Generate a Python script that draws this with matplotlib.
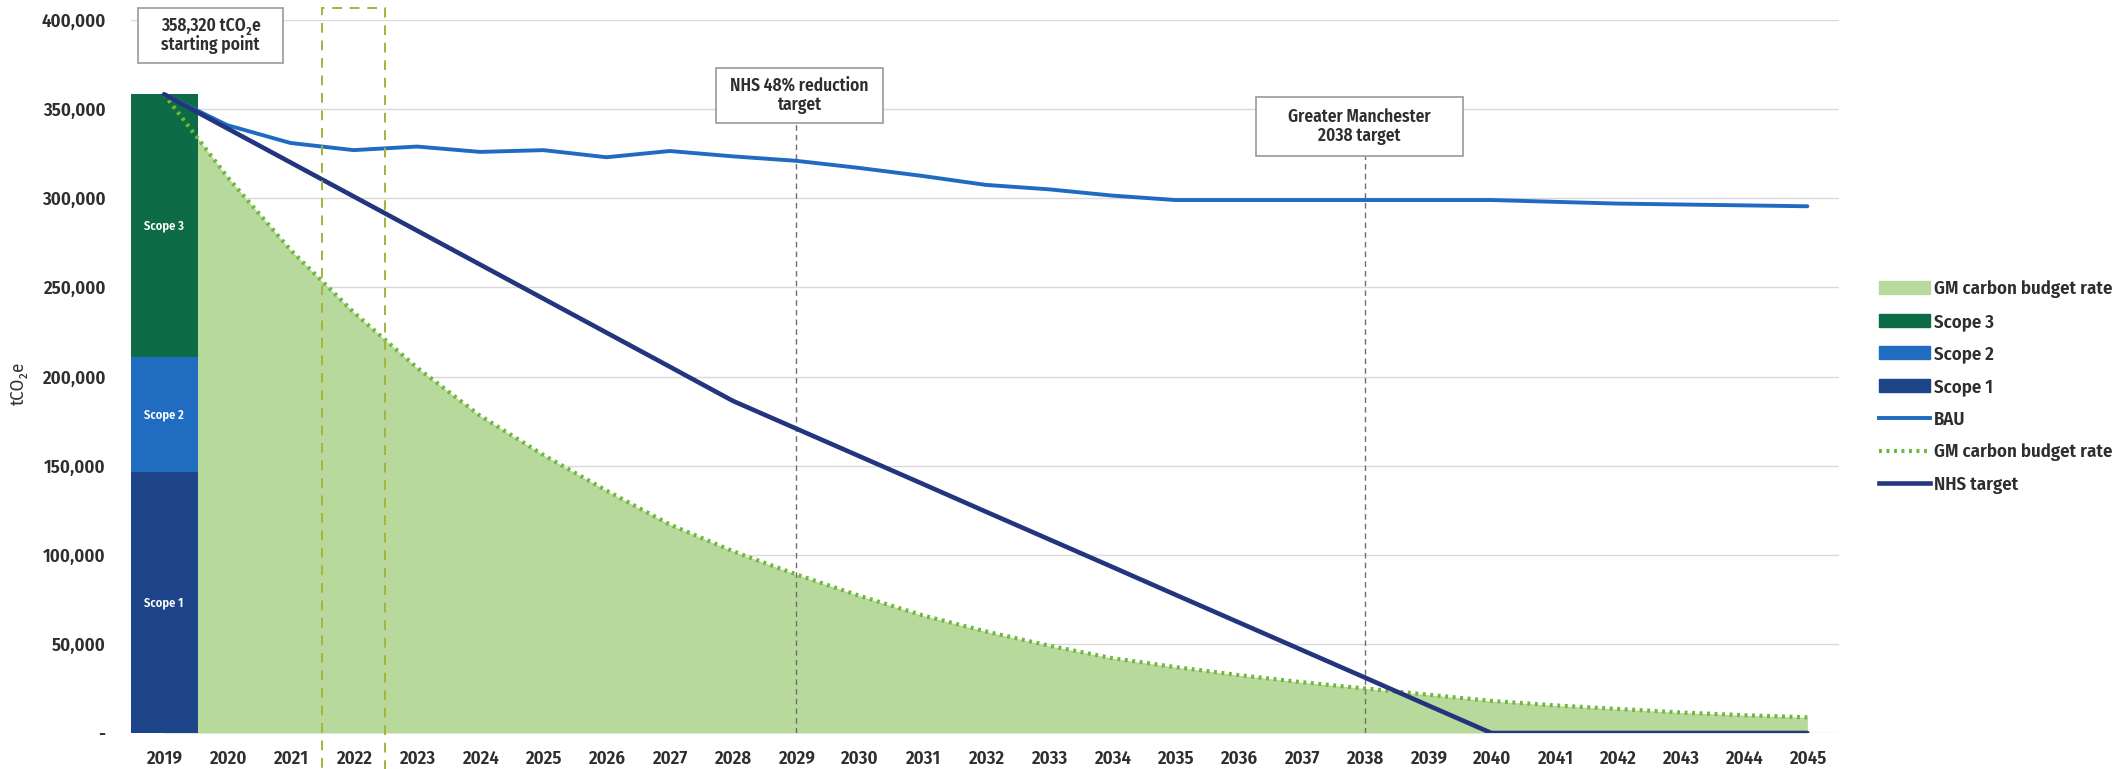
import numpy as np
import matplotlib.pyplot as plt
from matplotlib.patches import Rectangle, Patch
from matplotlib.lines import Line2D
from matplotlib.ticker import FuncFormatter

plt.rcParams['font.family'] = ['Fira Sans Condensed', 'DejaVu Sans']
plt.rcParams['font.weight'] = 600

years = np.arange(2019, 2046)

# 2019 baseline split by scope (tCO2e)
scope_1 = 146500
scope_2 = 64500
scope_3 = 147320

bau = [358320, 341000, 331000, 327000, 329000, 326000, 327000, 323000, 326500,
       323500, 321000, 317000, 312500, 307500, 305000, 301500, 299000, 299000,
       299000, 299000, 299000, 299000, 298000, 297000, 296500, 296000, 295500]

gm_budget = [358320, 312000, 271000, 236000, 205000, 178000, 156000, 136000,
             117000, 102000, 89000, 77000, 66000, 57000, 49000, 42000, 37000,
             32500, 28500, 25000, 21500, 18000, 15500, 13500, 11500, 10000, 8800]

nhs_target = [358320, 339200, 320100, 301000, 281900, 262800, 243700, 224600,
              205500, 186300, 170800, 155300, 139800, 124200, 108700, 93200,
              77600, 62100, 46600, 31100, 15500, 0, 0, 0, 0, 0, 0]

c_area = '#b7da9c'
c_dots = '#6fb83a'
c_s3 = '#0d6b45'
c_s2 = '#1f6cc0'
c_s1 = '#1d4488'
c_bau = '#1f6bc1'
c_nhs = '#24357f'
c_text = '#2e2e2e'
dot_style = (0, (0.7, 1.1))

fig = plt.figure(figsize=(21.13, 7.69), dpi=100)
ax = fig.add_axes([0.0618, 0.0468, 0.8085, 0.9272])

ax.fill_between(years, gm_budget, 0, color=c_area, lw=0, zorder=1)

bw = 1.06
ax.bar(2019, scope_1, width=bw, color=c_s1, zorder=2)
ax.bar(2019, scope_2, bottom=scope_1, width=bw, color=c_s2, zorder=2)
ax.bar(2019, scope_3, bottom=scope_1 + scope_2, width=bw, color=c_s3, zorder=2)
for lab, y in [('Scope 1', scope_1 / 2), ('Scope 2', scope_1 + scope_2 / 2),
               ('Scope 3', scope_1 + scope_2 + scope_3 / 2)]:
    ax.text(2019, y, lab, color='white', fontsize=9, ha='center', va='center', zorder=3)

ax.plot(years, gm_budget, color=c_dots, lw=3, linestyle=dot_style, zorder=4)
ax.plot(years, bau, color=c_bau, lw=2.8, zorder=5, solid_capstyle='round')
ax.plot(years, nhs_target, color=c_nhs, lw=3.3, zorder=6, solid_capstyle='round')

# highlighted current year
ax.add_patch(Rectangle((2021.5, -21000), 1.0, 428000, fill=False, ec='#a3b33f',
                       lw=1.4, ls=(0, (5, 4)), clip_on=False, zorder=7))


def note(x0, x1, y0, y1, text, leader=None):
    ax.add_patch(Rectangle((x0, y0), x1 - x0, y1 - y0, fc='white', ec='#9a9a9a',
                           lw=1.2, clip_on=False, zorder=8))
    ax.text((x0 + x1) / 2, (y0 + y1) / 2, text, ha='center', va='center',
            fontsize=12.5, color=c_text, linespacing=1.05, zorder=9)
    if leader is not None:
        ax.plot([leader, leader], [0, y0], color='#6e6e6e', lw=1, ls=(0, (4, 3)),
                zorder=3)


note(2018.59, 2020.88, 375800, 406700, '358,320 tCO\u2082e\nstarting point')
note(2027.73, 2030.38, 342000, 373000, 'NHS 48% reduction\ntarget', leader=2029)
note(2036.28, 2039.55, 323600, 357000, 'Greater Manchester\n2038 target', leader=2038)

ax.set_xlim(2018.47, 2045.5)
ax.set_ylim(0, 400000)
ax.set_xticks(years)
ax.set_yticks(np.arange(0, 400001, 50000))
ax.yaxis.set_major_formatter(FuncFormatter(lambda v, p: '-' if v == 0 else f'{int(v):,}'))
ax.tick_params(length=0, labelsize=13.5, colors=c_text)
ax.tick_params(axis='y', pad=18)
ax.tick_params(axis='x', pad=12)
ax.yaxis.grid(True, color='#d9d9d9', lw=1)
ax.set_axisbelow(True)
for s in ax.spines.values():
    s.set_visible(False)

ax.set_ylabel('tCO\u2082e', fontsize=13.5, color=c_text)
ax.yaxis.set_label_coords(-0.060, 0.49)

handles = [
    Patch(color=c_area, label='GM carbon budget rate'),
    Patch(color=c_s3, label='Scope 3'),
    Patch(color=c_s2, label='Scope 2'),
    Patch(color=c_s1, label='Scope 1'),
    Line2D([0], [0], color=c_bau, lw=2.8, label='BAU'),
    Line2D([0], [0], color=c_dots, lw=3, ls=dot_style, label='GM carbon budget rate'),
    Line2D([0], [0], color=c_nhs, lw=3.3, label='NHS target'),
]
fig.legend(handles=handles, loc='center left', bbox_to_anchor=(0.8813, 0.4967),
           frameon=False, fontsize=13.5, handlelength=2.7, handletextpad=0.25,
           labelspacing=0.79, labelcolor=c_text)

fig.savefig('out.png', dpi=100)
